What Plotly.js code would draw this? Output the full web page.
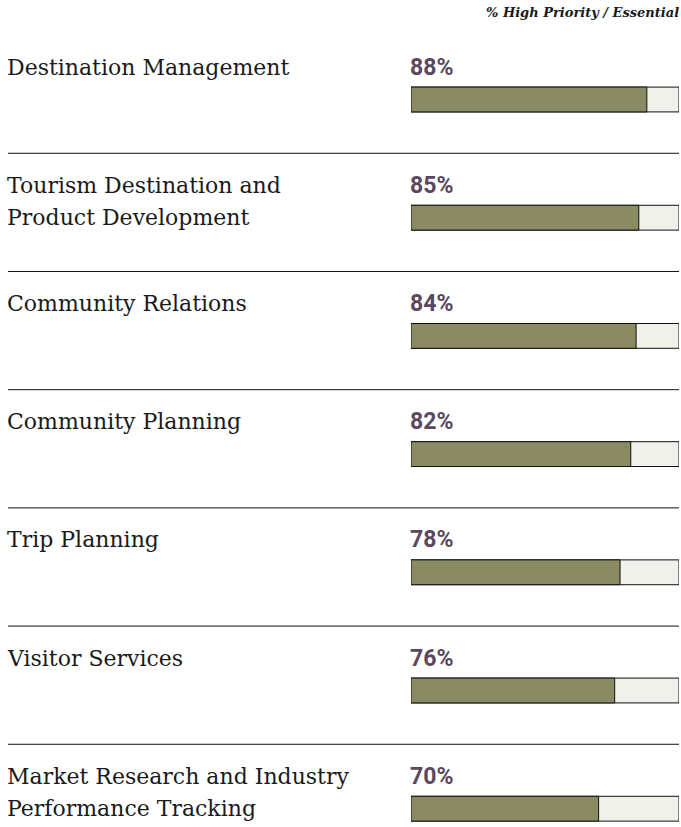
<!DOCTYPE html>
<html>
<head>
<meta charset="utf-8">
<script src="https://cdn.plot.ly/plotly-3.0.1.min.js"></script>
<style>
  html, body { margin: 0; padding: 0; background: #ffffff; }
  #chart { width: 681px; height: 827px; }
</style>
</head>
<body>
<div id="chart"></div>
<script>
// categories, top to bottom
const categories = [
    'Destination Management',
    'Tourism Destination and<br>Product Development',
    'Community Relations',
    'Community Planning',
    'Trip Planning',
    'Visitor Services',
    'Market Research and Industry<br>Performance Tracking'
];
// % rating high priority / essential
const values = [88, 85, 84, 82, 78, 76, 70];
const fullScale = categories.map(() => 100);
const headerText = '<b><i>% High Priority / Essential</i></b>';

const rowIdx = categories.map((c, i) => i);
const rowPx = 118.2; // pixel height of one row on the y axis

const traces = [
    {
        type: 'bar',
        orientation: 'h',
        x: fullScale,
        y: rowIdx,
        width: 0.21,
        marker: { color: '#f1f1ec', line: { color: '#111111', width: 1 } },
        hoverinfo: 'skip'
    },
    {
        type: 'bar',
        orientation: 'h',
        x: values,
        y: rowIdx,
        width: 0.21,
        marker: { color: '#8a8a63', line: { color: '#111111', width: 1 } },
        hovertemplate: '%{x}%<extra></extra>'
    }
];

const annotations = [];
categories.forEach((c, i) => {
    // one annotation per text line so the line spacing can follow the original
    c.split('<br>').forEach((line, k) => {
        annotations.push({
            text: line,
            xref: 'paper', yref: 'y',
            x: 6 / 681, y: i - 0.275 + k * 32 / rowPx,
            xanchor: 'left', yanchor: 'middle', align: 'left',
            showarrow: false, borderpad: 0,
            font: { family: 'DejaVu Serif, serif', size: 22, color: '#1a1a1a' }
        });
    });
    annotations.push({
        text: values[i] + '%',
        xref: 'x', yref: 'y',
        x: 0, xshift: -2, y: i - 0.275,
        xanchor: 'left', yanchor: 'middle',
        showarrow: false, borderpad: 0,
        font: { family: 'Roboto, sans-serif', size: 23, color: '#594860', weight: 'bold' }
    });
});
annotations.push({
    text: headerText,
    xref: 'paper', yref: 'paper',
    x: 680 / 681, y: 1 - 12 / 827,
    xanchor: 'right', yanchor: 'middle',
    showarrow: false, borderpad: 0,
    font: { family: 'DejaVu Serif, serif', size: 13, color: '#1a1a1a' }
});

// separators between rows
const shapes = rowIdx.slice(0, -1).map(i => ({
    type: 'line',
    xref: 'paper', yref: 'y',
    x0: 8 / 681, x1: 679 / 681,
    y0: i + 0.455, y1: i + 0.455,
    line: { color: '#111111', width: 1 }
}));

const layout = {
    width: 681,
    height: 827,
    margin: { l: 0, r: 0, t: 0, b: 0 },
    barmode: 'overlay',
    showlegend: false,
    xaxis: {
        domain: [411 / 681, 679 / 681],
        range: [0, 100],
        visible: false,
        fixedrange: true
    },
    yaxis: {
        range: [(827 - 99.5) / rowPx, -99.5 / rowPx],
        visible: false,
        fixedrange: true
    },
    annotations: annotations,
    shapes: shapes,
    paper_bgcolor: '#ffffff',
    plot_bgcolor: '#ffffff'
};

Plotly.newPlot('chart', traces, layout, { displayModeBar: false, responsive: false });
</script>
</body>
</html>
